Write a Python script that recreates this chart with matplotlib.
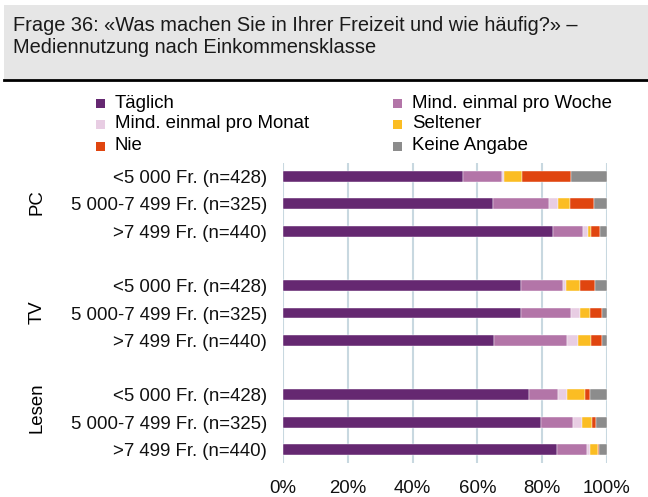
import matplotlib.pyplot as plt
import numpy as np
from matplotlib.patches import Rectangle
from matplotlib.lines import Line2D

plt.rcParams['font.family'] = ['Liberation Sans', 'DejaVu Sans']

# Daten (Anteile in %)
series = ['Täglich', 'Mind. einmal pro Woche', 'Mind. einmal pro Monat',
          'Seltener', 'Nie', 'Keine Angabe']
colors = ['#652871', '#b375a8', '#e8cde3', '#fbbd23', '#e0450f', '#8c8c8c']

groups = ['PC', 'TV', 'Lesen']
classes = ['<5 000 Fr. (n=428)', '5 000-7 499 Fr. (n=325)', '>7 499 Fr. (n=440)']

taeglich = [55.5, 64.8, 83.2, 73.6, 73.4, 65.0, 75.8, 79.6, 84.5]
woche    = [12.0, 17.2, 9.4, 12.8, 15.4, 22.6, 9.0, 9.8, 9.2]
monat    = [0.8, 2.8, 1.6, 1.0, 3.0, 3.6, 2.9, 2.9, 1.2]
seltener = [5.6, 3.8, 0.9, 4.2, 2.9, 3.9, 5.5, 3.1, 2.2]
nie      = [15.0, 7.3, 2.6, 4.7, 3.8, 3.4, 1.5, 1.1, 0.3]
keine    = [11.1, 4.1, 2.3, 3.7, 1.5, 1.5, 5.3, 3.5, 2.6]

data = np.array([taeglich, woche, monat, seltener, nie, keine])

W, H = 648, 497
FS = 13.4
fig = plt.figure(figsize=(W / 100, H / 100), dpi=100)

def fx(x):
    return x / W

def fy(y):
    return 1 - y / H

# Titelbox
fig.patches.append(Rectangle((fx(4), fy(79)), fx(644), 74 / H,
                             transform=fig.transFigure, facecolor='#e6e6e6',
                             edgecolor='none', zorder=0))
fig.lines.append(Line2D([fx(4), fx(648)], [fy(80), fy(80)],
                        transform=fig.transFigure, color='black', lw=2))
fig.text(fx(13), fy(31), 'Frage 36: «Was machen Sie in Ihrer Freizeit und wie häufig?» –',
         fontsize=14.4, va='baseline', color='#1a1a1a')
fig.text(fx(13), fy(53), 'Mediennutzung nach Einkommensklasse',
         fontsize=14.4, va='baseline', color='#1a1a1a')

# Achse
ax = fig.add_axes([fx(283), fy(463), (607 - 283) / W, 300 / H])
pos = [0, 1, 2, 4, 5, 6, 8, 9, 10]

left = np.zeros(len(pos))
for vals, col, name in zip(data, colors, series):
    ax.barh(pos, vals, left=left, height=0.4, color=col, label=name,
            edgecolor='white', linewidth=0.3, zorder=3)
    left += vals

ax.set_xlim(0, 100)
ax.set_ylim(10.5, -0.5)
ax.set_xticks(np.arange(0, 101, 20))
ax.set_xticklabels([f'{v}%' for v in range(0, 101, 20)], fontsize=FS)
ax.set_yticks(pos)
ax.set_yticklabels(classes * 3, fontsize=FS)
ax.tick_params(axis='both', length=0, colors='#111111')
ax.tick_params(axis='x', pad=12)
ax.tick_params(axis='y', pad=11.5)
ax.grid(axis='x', color='#c8d8e0', lw=1.5, zorder=0)
for s in ax.spines.values():
    s.set_visible(False)

# Gruppenbeschriftung
for g, yc in zip(groups, [215, 324, 433]):
    fig.text(fx(37), fy(yc), g, rotation=90, rotation_mode='anchor',
             ha='left', va='center', fontsize=FS)

# Legende
leg_pos = [(96, 103), (393, 103), (96, 124), (393, 124), (96, 146), (393, 146)]
for (x, y), col, name in zip(leg_pos, colors, series):
    fig.patches.append(Rectangle((fx(x), fy(y + 4.5)), 9 / W, 9 / H,
                                 transform=fig.transFigure, facecolor=col,
                                 edgecolor='none'))
    fig.text(fx(x + 19), fy(y), name, fontsize=FS, va='center')

fig.savefig('out.png', dpi=100)
